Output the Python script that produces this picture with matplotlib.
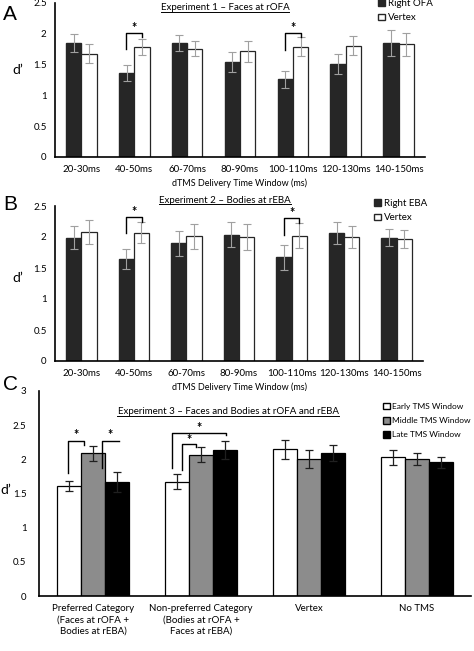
import matplotlib.pyplot as plt
from matplotlib.patches import Patch
from matplotlib.lines import Line2D
import numpy as np

plt.rcParams['font.family'] = ['Lato', 'DejaVu Sans']

# --- datos panel A ---
ventanas = ["20-30ms", "40-50ms", "60-70ms", "80-90ms", "100-110ms", "120-130ms", "140-150ms"]
a_ofa = [1.85, 1.37, 1.85, 1.54, 1.26, 1.51, 1.85]
a_ofa_err = [0.15, 0.13, 0.13, 0.16, 0.14, 0.16, 0.21]
a_vertex = [1.68, 1.78, 1.76, 1.72, 1.79, 1.81, 1.83]
a_vertex_err = [0.15, 0.13, 0.12, 0.17, 0.15, 0.15, 0.19]

# --- datos panel B ---
b_eba = [1.99, 1.64, 1.90, 2.04, 1.67, 2.07, 1.99]
b_eba_err = [0.19, 0.16, 0.20, 0.20, 0.20, 0.18, 0.14]
b_vertex = [2.08, 2.07, 2.01, 2.00, 2.02, 2.00, 1.97]
b_vertex_err = [0.19, 0.17, 0.20, 0.21, 0.20, 0.18, 0.14]

# --- datos panel C ---
c_cats = ["Preferred Category\n(Faces at rOFA +\nBodies at rEBA)",
          "Non-preferred Category\n(Bodies at rOFA +\nFaces at rEBA)",
          "Vertex", "No TMS"]
c_early = [1.61, 1.67, 2.15, 2.03]
c_early_err = [0.08, 0.11, 0.14, 0.11]
c_middle = [2.09, 2.07, 2.00, 2.00]
c_middle_err = [0.11, 0.11, 0.13, 0.09]
c_late = [1.67, 2.14, 2.09, 1.96]
c_late_err = [0.15, 0.13, 0.12, 0.08]

W, H = 474, 651
fig = plt.figure(figsize=(W / 100, H / 100), dpi=100)


def fx(px):
    return px / W


def fy(py):
    return 1 - py / H


def estilo(ax):
    for s in ["top", "right"]:
        ax.spines[s].set_visible(False)
    ax.spines["left"].set_linewidth(1.2)
    ax.spines["bottom"].set_linewidth(1.2)
    ax.tick_params(length=0, labelsize=7, pad=6)


def corchete(ax, x1, x2, y1, ytop, y2, ystar):
    ax.plot([x1, x1, x2, x2], [y1, ytop, ytop, y2], color="black", lw=1.0, clip_on=False)
    ax.text((x1 + x2) / 2, ystar, "*", ha="center", va="center", fontsize=9, fontweight="bold")


titulos = []


def panel_dos(rect, dark, dark_err, white, white_err, nombre, titulo, ypos_titulo, ystars, pos_leg):
    ax = fig.add_axes(rect)
    x = np.arange(len(ventanas))
    w = 0.29
    ek = dict(ecolor="#a0a0a0", capsize=3, elinewidth=0.8, capthick=0.8)
    ax.bar(x - w / 2, dark, w, yerr=dark_err, color="#262626", edgecolor="#262626", error_kw=ek)
    ax.bar(x + w / 2, white, w, yerr=white_err, color="white", edgecolor="#262626", lw=0.9, error_kw=ek)
    ax.set_xlim(-0.5, len(ventanas) - 0.5)
    ax.set_ylim(0, 2.5)
    ax.set_yticks([0, 0.5, 1, 1.5, 2, 2.5])
    ax.set_yticklabels(["0", "0.5", "1", "1.5", "2", "2.5"])
    ax.set_xticks(x)
    ax.set_xticklabels(ventanas)
    ax.set_xlabel("dTMS Delivery Time Window (ms)", fontsize=6.5, labelpad=3)
    estilo(ax)
    for i, (y1, ytop, y2, ys) in ystars:
        corchete(ax, i - 0.15, i + 0.15, y1, ytop, y2, ys)
    handles = [Patch(facecolor="#262626", edgecolor="#262626"), Patch(facecolor="white", edgecolor="#262626")]
    ax.legend(handles, [nombre, "Vertex"], loc="upper left", bbox_to_anchor=pos_leg,
              bbox_transform=fig.transFigure, frameon=False, fontsize=7,
              handlelength=0.7, handleheight=0.7, handletextpad=0.3, labelspacing=0.55,
              borderaxespad=0, borderpad=0)
    t = fig.text(fx(225), fy(ypos_titulo), titulo, ha="center", va="center", fontsize=7)
    titulos.append(t)
    return ax


axA = panel_dos([fx(55), fy(157), fx(370), 154 / H], a_ofa, a_ofa_err, a_vertex, a_vertex_err,
                "Right OFA", "Experiment 1 \u2013 Faces at rOFA", 8,
                [(1, (1.75, 2.02, 1.95, 2.10)), (4, (1.74, 2.02, 1.94, 2.10))],
                (fx(378), fy(-1)))
axB = panel_dos([fx(55), fy(361), fx(368), 155 / H], b_eba, b_eba_err, b_vertex, b_vertex_err,
                "Right EBA", "Experiment 2 \u2013 Bodies at rEBA", 200,
                [(1, (2.06, 2.33, 2.24, 2.41)), (4, (2.03, 2.30, 2.22, 2.38))],
                (fx(374), fy(199)))

# --- panel C ---
axC = fig.add_axes([fx(39), fy(596), fx(432), 205 / H])
xc = np.arange(len(c_cats))
wc = 0.225
ekc = dict(ecolor="#202020", capsize=3, elinewidth=0.9, capthick=0.9)
axC.bar(xc - wc, c_early, wc, yerr=c_early_err, color="white", edgecolor="black", lw=0.9, error_kw=ekc)
axC.bar(xc, c_middle, wc, yerr=c_middle_err, color="#8c8c8c", edgecolor="black", lw=0.9, error_kw=ekc)
axC.bar(xc + wc, c_late, wc, yerr=c_late_err, color="black", edgecolor="black", lw=0.9, error_kw=ekc)
axC.set_xlim(-0.5, len(c_cats) - 0.5)
axC.set_ylim(0, 3)
axC.set_yticks([0, 0.5, 1, 1.5, 2, 2.5, 3])
axC.set_yticklabels(["0", "0.5", "1", "1.5", "2", "2.5", "3"])
axC.set_xticks(xc)
axC.set_xticklabels(c_cats, linespacing=1.3)
estilo(axC)
axC.tick_params(axis="y", pad=9)
corchete(axC, -0.23, -0.08, 1.80, 2.27, 2.21, 2.35)
corchete(axC, 0.08, 0.24, 1.87, 2.27, 2.27, 2.35)
corchete(axC, 0.82, 0.95, 1.84, 2.23, 2.18, 2.29)
corchete(axC, 0.73, 1.23, 1.87, 2.39, 2.36, 2.46)
handles = [Patch(facecolor="white", edgecolor="black"), Patch(facecolor="#8c8c8c", edgecolor="black"),
           Patch(facecolor="black", edgecolor="black")]
axC.legend(handles, ["Early TMS Window", "Middle TMS Window", "Late TMS Window"], loc="upper left",
           bbox_to_anchor=(fx(383), fy(403)), bbox_transform=fig.transFigure, frameon=False, fontsize=6,
           handlelength=0.8, handleheight=0.8, handletextpad=0.25, labelspacing=0.85,
           borderaxespad=0, borderpad=0)
tc = fig.text(fx(228), fy(412), "Experiment 3 \u2013 Faces and Bodies at rOFA and rEBA",
              ha="center", va="center", fontsize=7)
titulos.append(tc)

# etiquetas de panel y d'
for letra, py in [("A", 14), ("B", 204), ("C", 385)]:
    fig.text(fx(3), fy(py), letra, fontsize=15, family="Liberation Sans", va="center")
for px, py in [(12, 70), (12, 278), (0, 490)]:
    fig.text(fx(px), fy(py), "d\u2019", fontsize=10, va="center")

# subrayado de los titulos
fig.canvas.draw()
r = fig.canvas.get_renderer()
for t in titulos:
    bb = t.get_window_extent(r).transformed(fig.transFigure.inverted())
    fig.add_artist(Line2D([bb.x0, bb.x1], [bb.y0 + 0.001, bb.y0 + 0.001], color="black", lw=0.7,
                          transform=fig.transFigure))

fig.savefig("out.png", dpi=100)
